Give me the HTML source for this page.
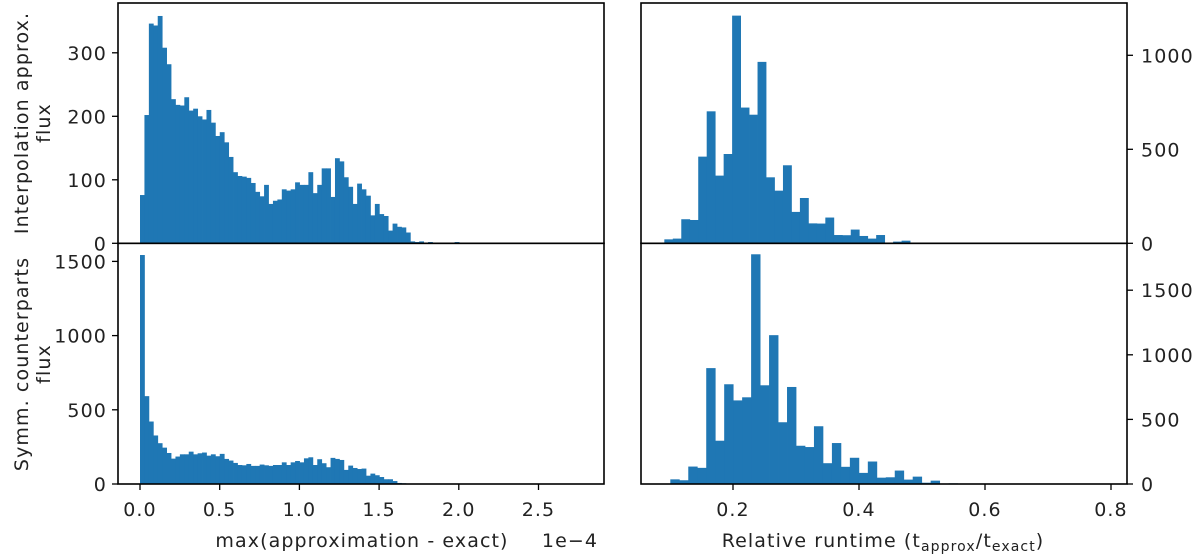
<!DOCTYPE html>
<html><head><meta charset="utf-8"><style>
html,body{margin:0;padding:0;background:#fff;}
svg{display:block;font-family:"DejaVu Sans","Liberation Sans",sans-serif;}
</style></head><body>
<svg id="fig" width="1200" height="556" viewBox="0 0 1200 556"></svg>
<script>
// Data arrays
const tlValues=[76,202,346,343,358,308,282,227,218,217,230,209,212,200,195,210,190,169,175,159,136,112,106,105,103,95,81,74,92,62,67,69,85,83,85,96,92,92,112,79,92,118,118,73,134,129,104,89,62,94,85,75,44,62,46,43,20,31,26,25,17,3,2,3,1,2,1,0,1,0,0,2,0,1,0,0,1,0,0,1,0,0,0,1,0,0,0,0,0,0,0,0,0,0,0,0,0,0,0,1];
const blValues=[1543,592,421,327,275,245,209,171,185,200,200,218,200,207,212,191,200,187,203,169,158,142,128,126,135,122,122,131,126,122,128,128,146,128,146,155,146,173,180,128,167,140,113,176,169,162,95,124,108,101,104,56,70,59,47,32,32,20,7,5,3,2,2,1,1,1,0,1,0,0,1,0,0,0,1,0,0,0,0,0,0,0,0,0,0,0,0,0,0,0,0,0,0,0,0,0,0,0,0,0];
const leftBinStart=0, leftBinWidth=2.78e-6;
const trValues=[21,25,128,124,461,702,360,475,1211,722,684,965,351,280,415,167,241,106,105,137,44,43,73,39,25,44,0,9,14,0,4,4,0,0,2,0,0,0,0,0,0,0,0,0,0,0,0,0,0,0,0,1];
const trBinStart=0.091, trBinWidth=0.01345;
const brValues=[36,29,135,125,897,335,772,647,671,1778,764,1152,478,751,296,286,447,161,317,133,203,86,174,49,52,104,34,57,10,26,3,5,2,0,3,0,0,0,0,0,0,0,0,0,0,0,0,0,0,1];
const brBinStart=0.1005, brBinWidth=0.01425;
const leftXTicks=[0,0.5,1.0,1.5,2.0,2.5];
const rightXTicks=[0.2,0.4,0.6,0.8];
const tlYTicks=[0,100,200,300];
const blYTicks=[0,500,1000,1500];
const trYTicks=[0,500,1000];
const brYTicks=[0,500,1000,1500];

const NS="http://www.w3.org/2000/svg";
const svg=document.getElementById('fig');
function mk(tag,attrs,parent){const e=document.createElementNS(NS,tag);for(const k in attrs)e.setAttribute(k,attrs[k]);(parent||svg).appendChild(e);return e;}

const lx=v=>140+v*1e4/0.5*79.7;
const rx=v=>607+v/0.2*126;
const tlY=v=>243.3-v*0.635;
const blY=v=>484-v*(74.2/500);
const trY=v=>243.3-v*(188/1000);
const brY=v=>484-v*(64.6/500);

function bars(vals,start,w,xf,yf,name){
  const g=mk('g',{});
  
  
  vals.forEach((v,i)=>{
    if(v<=0)return;
    const x0=xf(start+i*w),x1=xf(start+(i+1)*w);
    const r=mk('rect',{x:x0,y:yf(v),width:x1-x0+0.4,height:yf(0)-yf(v),fill:'#1f77b4'},g);
    
    
  });
}
bars(tlValues,leftBinStart,leftBinWidth,lx,tlY,'top-left-histogram');
bars(blValues,leftBinStart,leftBinWidth,lx,blY,'bottom-left-histogram');
bars(trValues,trBinStart,trBinWidth,rx,trY,'top-right-histogram');
bars(brValues,brBinStart,brBinWidth,rx,brY,'bottom-right-histogram');

const frames=[[118,3,604,243.3,'top-left-frame'],[118,243.3,604,484,'bottom-left-frame'],[641,3,1127,243.3,'top-right-frame'],[641,243.3,1127,484,'bottom-right-frame']];
frames.forEach(f=>{const r=mk('rect',{x:f[0],y:f[1],width:f[2]-f[0],height:f[3]-f[1],fill:'none',stroke:'#000','stroke-width':1.6});

});

function text(x,y,s,anchor,name,extra){const t=mk('text',Object.assign({x:x,y:y,'text-anchor':anchor,'font-size':19,fill:'#222','letter-spacing':'1.1'},extra||{}));t.textContent=s;

return t;}

function yticks(ticks,yf,side,name){
  ticks.forEach(v=>{
    const y=yf(v);
    if(side==='left'){mk('line',{x1:112,x2:118,y1:y,y2:y,stroke:'#000','stroke-width':1.3});text(107,y+7,String(v),'end',name+'-tick-label');}
    else{mk('line',{x1:1127,x2:1133,y1:y,y2:y,stroke:'#000','stroke-width':1.3});text(1141,y+7,String(v),'start',name+'-tick-label');}
  });
}
yticks(tlYTicks,tlY,'left','top-left-y');
yticks(blYTicks,blY,'left','bottom-left-y');
yticks(trYTicks,trY,'right','top-right-y');
yticks(brYTicks,brY,'right','bottom-right-y');

leftXTicks.forEach(v=>{const x=lx(v*1e-4);mk('line',{x1:x,x2:x,y1:484,y2:490,stroke:'#000','stroke-width':1.3});text(x,516,v.toFixed(1),'middle','left-x-tick-label');});
rightXTicks.forEach(v=>{const x=rx(v);mk('line',{x1:x,x2:x,y1:484,y2:490,stroke:'#000','stroke-width':1.3});text(x,516,v.toFixed(1),'middle','right-x-tick-label');});

text(362,547,'max(approximation - exact)','middle','left-x-axis-title');
text(570,547,'1e\u22124','middle','x-axis-offset-label');
const rt=text(883,547,'Relative runtime (t','middle','right-x-axis-title');
const s1=mk('tspan',{'font-size':14,dy:4},rt);s1.textContent='approx';
const s2=mk('tspan',{dy:-4},rt);s2.textContent='/t';
const s3=mk('tspan',{'font-size':14,dy:4},rt);s3.textContent='exact';
const s4=mk('tspan',{dy:-4},rt);s4.textContent=')';
text(28,123,'Interpolation approx.','middle','top-y-axis-title',{transform:'rotate(-90 28 123)'});
text(50,123,'flux','middle','top-y-axis-title-flux',{transform:'rotate(-90 50 123)'});
text(28,364,'Symm. counterparts','middle','bottom-y-axis-title',{transform:'rotate(-90 28 364)'});
text(50,364,'flux','middle','bottom-y-axis-title-flux',{transform:'rotate(-90 50 364)'});
</script>
</body></html>
